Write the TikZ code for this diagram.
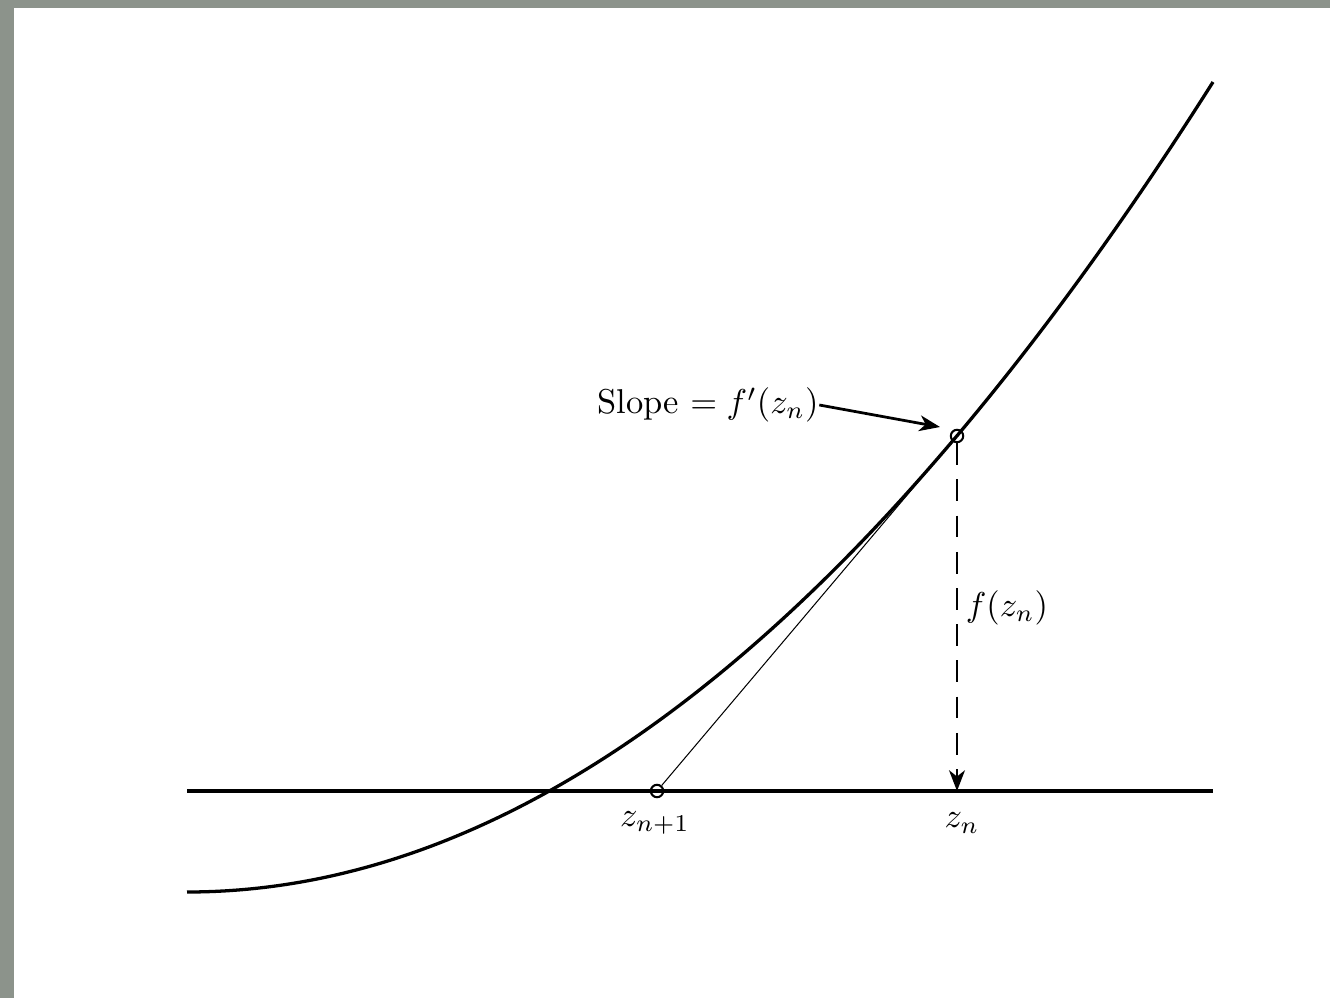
\documentclass[tikz,border=0pt]{standalone}
\usetikzlibrary{arrows.meta}
\definecolor{frame}{RGB}{140,147,139}
\begin{document}
\begin{tikzpicture}[x=0.29pt,y=-0.29pt,
  thickline/.style={line width=0.95pt},
  thinline/.style={line width=0.3pt},
  dashline/.style={line width=0.75pt,dash pattern=on 6.3pt off 4.2pt},
  dot/.style={circle,draw,line width=0.6pt,minimum size=3.6pt,inner sep=0pt},
  tip/.style={-{Stealth[length=6pt,width=4.6pt,inset=1.8pt]}},
  lbl/.style={inner sep=0pt}]
\fill[frame] (0,0) rectangle (1330,998);
\fill[white] (14,8) rectangle (1330,998);
\useasboundingbox (0,0) rectangle (1330,998);
% axis
\coordinate (axL) at (187,791);
\coordinate (axR) at (1213,791);
\draw[thickline] (axL) -- (axR);
% curve (parabola with vertex at left end)
\coordinate (cS) at (187,892);
\coordinate (cE) at (1213,82);
\draw[thickline] (cS) .. controls (529,892) and (871,622) .. (cE);
% points
\node[dot] (p) at (957,436) {};
\node[dot] (q) at (657,791) {};
\coordinate (zn) at (957,791);
% tangent
\draw[thinline] (q) -- (p);
% dashed f(z_n)
\draw[dashline,tip] (p) -- (zn);
% labels
\node[lbl] (slope) at (708,405) {Slope $=f'(z_n)$};
\coordinate (slopetip) at (940,427);
\draw[line width=0.8pt,tip] (slope.east) -- (slopetip);
\node[lbl] (fz) at (1007,608) {$f(z_n)$};
\node[lbl] (lq) at (655,823) {$z_{n+1}$};
\node[lbl] (lz) at (962,823) {$z_n$};
\end{tikzpicture}
\end{document}
